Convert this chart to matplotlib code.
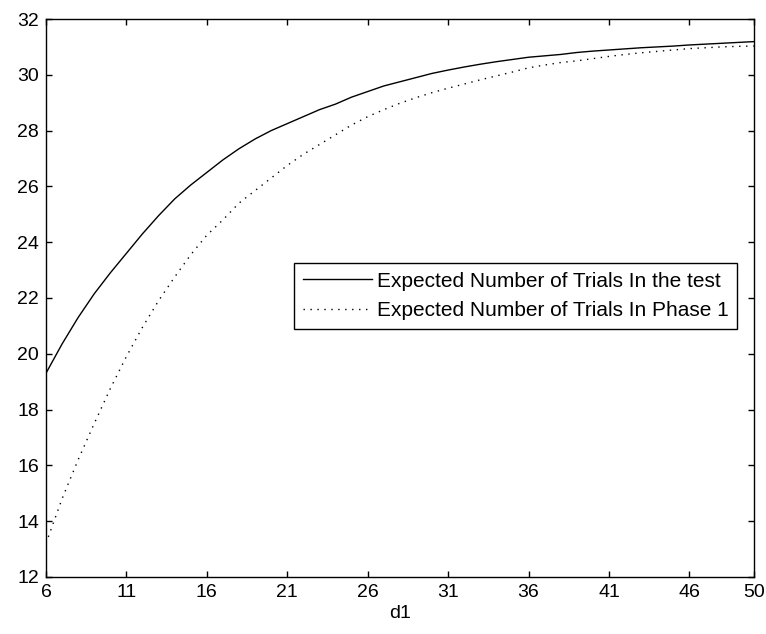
import numpy as np
import matplotlib
matplotlib.use('Agg')
import matplotlib.pyplot as plt

plt.rcParams['font.family'] = ['Liberation Sans', 'DejaVu Sans']

# d1 values and the two expected-trial curves
d1 = [6, 7, 8, 9, 10, 11, 12, 13, 14, 15, 16, 17, 18, 19, 20, 21, 22, 23, 24, 25, 26, 27, 28,
      29, 30, 31, 32, 33, 34, 35, 36, 37, 38, 39, 40, 41, 42, 43, 44, 45, 46, 47, 48, 49, 50]
trials_test = [19.3, 20.35, 21.3, 22.15, 22.9, 23.6, 24.3, 24.95, 25.55, 26.05, 26.5, 26.95,
               27.35, 27.7, 28.0, 28.25, 28.5, 28.75, 28.95, 29.2, 29.4, 29.6, 29.75, 29.9,
               30.05, 30.17, 30.28, 30.38, 30.47, 30.55, 30.63, 30.68, 30.73, 30.8, 30.85,
               30.89, 30.93, 30.97, 31.0, 31.03, 31.07, 31.1, 31.13, 31.16, 31.19]
trials_phase1 = [13.2, 14.8, 16.2, 17.5, 18.75, 19.9, 20.95, 21.9, 22.75, 23.55, 24.25, 24.8,
                 25.4, 25.85, 26.3, 26.75, 27.15, 27.5, 27.85, 28.2, 28.5, 28.75, 28.98, 29.18,
                 29.36, 29.52, 29.67, 29.82, 29.96, 30.1, 30.25, 30.35, 30.44, 30.5, 30.58,
                 30.66, 30.73, 30.79, 30.84, 30.89, 30.94, 30.97, 31.0, 31.02, 31.03]
xticks = [6, 11, 16, 21, 26, 31, 36, 41, 46, 50]
yticks = [12, 14, 16, 18, 20, 22, 24, 26, 28, 30, 32]

fig = plt.figure(figsize=(7.66, 6.34), dpi=100)
ax = fig.add_axes([0.060, 0.090, 0.924, 0.880])

ax.plot(d1, trials_test, color='black', linewidth=1.0, linestyle='-',
        label='Expected Number of Trials In the test')
ax.plot(d1, trials_phase1, color='black', linewidth=1.0, linestyle=(0, (1, 4)),
        label='Expected Number of Trials In Phase 1')

ax.set_xlim(6, 50)
ax.set_ylim(12, 32)
ax.set_xticks(xticks)
ax.set_yticks(yticks)
ax.tick_params(direction='in', length=4.5, width=1, top=True, right=True, labelsize=14, pad=5)
for s in ax.spines.values():
    s.set_linewidth(1.0)
ax.set_xlabel('d1', fontsize=14, labelpad=3)

leg = ax.legend(loc='upper right', bbox_to_anchor=(0.977, 0.563), fontsize=15,
                fancybox=False, framealpha=1, edgecolor='black', handlelength=3.3,
                handletextpad=0.25, borderpad=0.42, labelspacing=0.5, borderaxespad=0)
leg.get_frame().set_linewidth(1.0)

fig.savefig('out.png', dpi=100)
